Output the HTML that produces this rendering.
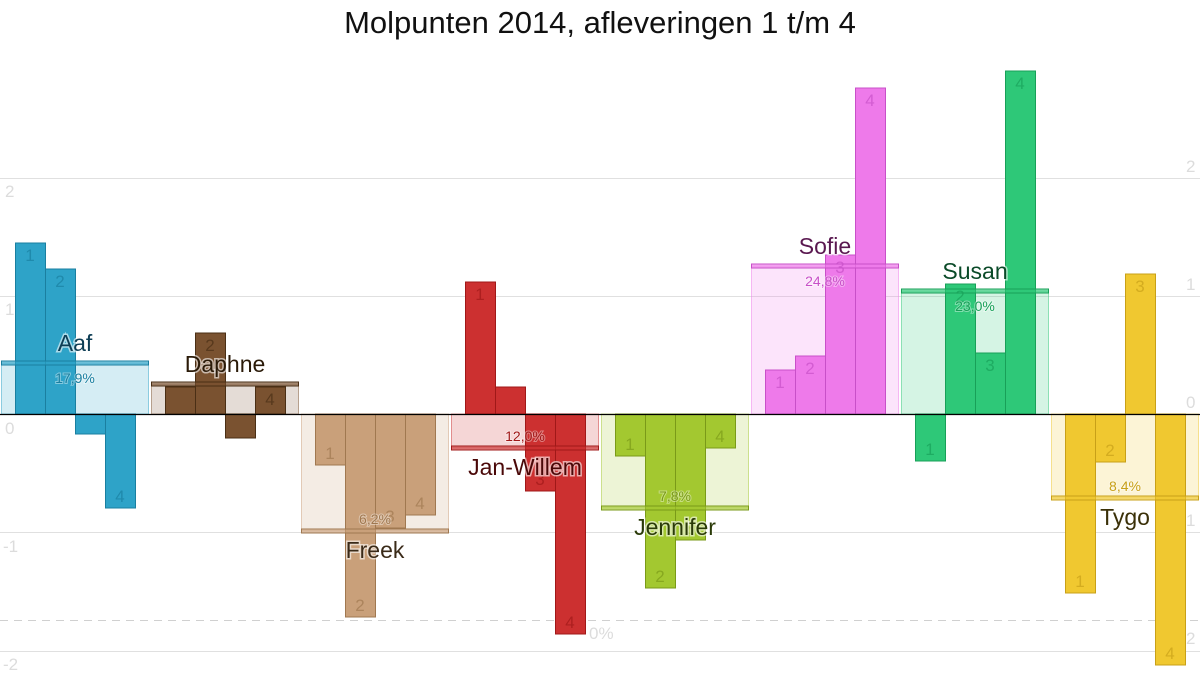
<!DOCTYPE html>
<html><head><meta charset="utf-8"><style>
html,body{margin:0;padding:0;background:#fff;width:1200px;height:700px;overflow:hidden}
svg{display:block;font-family:"Liberation Sans",sans-serif}
.ax{fill:#dcdcdc;font-size:17px}
.num{font-size:17px;text-anchor:middle}
.name{font-size:23px;text-anchor:middle;paint-order:stroke;stroke:#fff;stroke-width:3px;stroke-opacity:.6}
.pct{font-size:14px;text-anchor:middle;paint-order:stroke;stroke:#fff;stroke-width:2px;stroke-opacity:.4}
</style></head><body>
<svg width="1200" height="700" viewBox="0 0 1200 700">
<text x="600" y="33" text-anchor="middle" font-size="31" fill="#111">Molpunten 2014, afleveringen 1 t/m 4</text>
<g stroke="#e0e0e0" stroke-width="1">
<line x1="0" y1="178.5" x2="1200" y2="178.5"/>
<line x1="0" y1="296.5" x2="1200" y2="296.5"/>
<line x1="0" y1="532.5" x2="1200" y2="532.5"/>
<line x1="0" y1="651.5" x2="1200" y2="651.5"/>
<line x1="0" y1="620.5" x2="1200" y2="620.5" stroke="#d0d0d0" stroke-dasharray="8,6"/>
</g>
<g class="ax">
<text x="5" y="197">2</text><text x="5" y="315">1</text><text x="5" y="434">0</text><text x="3" y="552">-1</text><text x="3" y="670">-2</text>
<text x="1186" y="172">2</text><text x="1186" y="290">1</text><text x="1186" y="408">0</text><text x="1186" y="526">1</text><text x="1186" y="644">2</text>
<text x="589" y="639">0%</text>
</g>
<g id="g"></g>
<line x1="0" y1="414.5" x2="1200" y2="414.5" stroke="#000" stroke-width="1.3"/>
<g id="t"></g>
</svg>
<script>
const data=[
["Aaf","#2ea3c8","#1a7fa0","#0d3d55",[243,269,434,508],363,"17,9%",1,[1,1,0,1]],
["Daphne","#7a5230","#4a2f15","#2a1a08",[387,333,438,387],384,"",1,[0,1,0,1]],
["Freek","#c9a07a","#a07850","#3a2a18",[465,617,528,515],531,"6,2%",0,[1,1,1,1]],
["Jan-Willem","#cc3030","#a01818","#4a0808",[282,387,491,634],448,"12,0%",0,[1,0,1,1]],
["Jennifer","#a3c830","#7a9a18","#2a3a08",[456,588,540,448],508,"7,8%",0,[1,1,1,1]],
["Sofie","#ee7aea","#c850c8","#5a1850",[370,356,255,88],266,"24,8%",1,[1,1,1,1]],
["Susan","#2ec878","#18a058","#0a4a28",[461,284,353,71],291,"23,0%",1,[1,1,1,1]],
["Tygo","#f0c830","#c8a018","#3a3008",[593,462,274,665],498,"8,4%",0,[1,1,1,1]]];
const Z=414;let g="",t="";
data.forEach((d,i)=>{const x0=i*150;const [n,c,b,dk,v,a,p,up,show]=d;
 const bt=Math.min(a,Z),bh=Math.abs(a-Z);
 g+=`<rect x="${x0+1.5}" y="${bt}" width="147" height="${bh}" fill="${c}" fill-opacity="0.2" stroke="${c}" stroke-opacity="0.5"/>`;
 v.forEach((y,j)=>{const x=x0+15+30*j;const top=Math.min(y,Z),h=Math.abs(y-Z);
  g+=`<rect x="${x+0.5}" y="${top}" width="30" height="${h}" fill="${c}" stroke="${b}" stroke-width="1"/>`;
  const ly=y<Z?y+18:y-6;
  if(show[j]) t+=`<text class="num" x="${x+15}" y="${ly}" fill="${b}" fill-opacity="0.7">${j+1}</text>`;});
 g+=`<rect x="${x0+1.5}" y="${a-2}" width="147" height="4" fill="${c}" fill-opacity="0.6" stroke="${b}"/>`;
 const ny=up?a-12:a+27;
 t+=`<text class="name" x="${x0+75}" y="${ny}" fill="${dk}">${n}</text>`;
 if(p){const py=up?a+20:a-7;t+=`<text class="pct" x="${x0+75}" y="${py}" fill="${b}">${p}</text>`;}
});
document.getElementById("g").innerHTML=g;document.getElementById("t").innerHTML=t;
</script>
</body></html>
